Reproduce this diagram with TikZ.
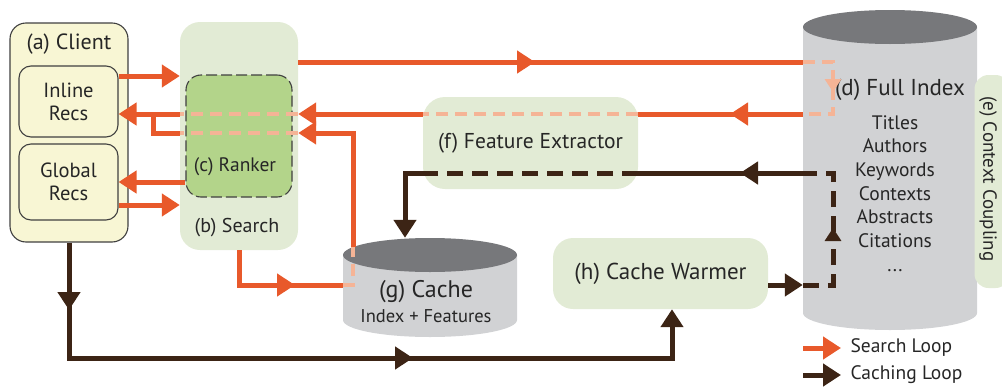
\documentclass[tikz,border=0pt]{standalone}
\usepackage{fontspec}
\setmainfont{PT Sans}
\usetikzlibrary{arrows.meta}
\definecolor{orangeC}{HTML}{E8592B}
\definecolor{peachC}{HTML}{F5B496}
\definecolor{darkC}{HTML}{3C2415}
\definecolor{clientC}{HTML}{F8F6D4}
\definecolor{greenC}{HTML}{E2EBD5}
\definecolor{rankC}{HTML}{B3D48A}
\definecolor{bodyC}{HTML}{D1D2D4}
\definecolor{topC}{HTML}{77787B}
\definecolor{edgeC}{HTML}{404040}
\begin{document}
\begin{tikzpicture}[x=1pt,y=-1pt,
  oline/.style={draw=orangeC, line width=5pt},
  dline/.style={draw=darkC, line width=5pt},
  pdash/.style={draw=peachC, line width=4pt, dash pattern=on 12pt off 7pt},
  ddash/.style={draw=darkC, line width=5pt, dash pattern=on 16pt off 9pt},
  tip/.style={-{Triangle[length=18pt,width=22pt]}},
  smalltip/.style={-{Triangle[length=13pt,width=16pt]}},
  clientbox/.style={draw=edgeC, line width=1.1pt, fill=clientC, rounded corners=16pt, inner sep=0},
  recbox/.style={draw=edgeC, line width=1.1pt, fill=clientC, rounded corners=12pt, inner sep=0, align=center, font=\fontsize{20.5}{23}\selectfont, text=black!85},
  greenbox/.style={fill=greenC, rounded corners=20pt, inner sep=0},
  rankbox/.style={draw=edgeC, line width=1.1pt, dash pattern=on 11pt off 4pt, fill=rankC, rounded corners=15pt, inner sep=0},
  lbl/.style={inner sep=0, align=center, text=black!85},
  area/.style={inner sep=0, minimum width=174pt},
]
\useasboundingbox (0,0) rectangle (1002,386);

% ---- boxes
\node[clientbox, minimum width=118pt, minimum height=219pt] (client) at (69,132.5) {};
\node[lbl, font=\fontsize{22}{26}\selectfont] (clientlbl) at (69,44) {(a) Client};
\node[recbox, minimum width=99pt, minimum height=71pt] (inline) at (68.5,101.5) {Inline\\Recs};
\node[recbox, minimum width=99pt, minimum height=76pt] (global) at (68.5,182) {Global\\Recs};

\node[greenbox, minimum width=118pt, minimum height=228pt] (search) at (239,136) {};
\node[lbl, font=\fontsize{20}{24}\selectfont] (searchlbl) at (237,228) {(b) Search};
\node[rankbox, minimum width=106pt, minimum height=122pt] (ranker) at (239,136) {};
\node[lbl, font=\fontsize{19.5}{23}\selectfont] (rankerlbl) at (235,167) {(c) Ranker};

\node[greenbox, rounded corners=22pt, minimum width=215pt, minimum height=92pt, font=\fontsize{21.5}{25}\selectfont, text=black!85] (feat) at (530.5,143) {(f) Feature Extractor};
\node[greenbox, minimum width=215pt, minimum height=71pt, font=\fontsize{23}{27}\selectfont, text=black!85] (warmer) at (660.5,273.5) {(h) Cache Warmer};

% ---- full index cylinder
\fill[bodyC] (803,27) -- (803,313) arc[start angle=180, end angle=360, x radius=87pt, y radius=17pt] -- (977,27) -- cycle;
\fill[topC] (890,27) ellipse[x radius=87pt, y radius=17pt];
\node[area, minimum height=320pt] (full) at (890,170) {};
\node[lbl, font=\fontsize{23}{27}\selectfont] (fulllbl) at (900,90) {(d) Full Index};
\node[lbl, font=\fontsize{19.5}{23.7}\selectfont, anchor=north] (fulllist) at (895,115) {Titles\\Authors\\Keywords\\Contexts\\Abstracts\\Citations\\...};

\node[greenbox, rounded corners=14pt, minimum width=35pt, minimum height=213pt] (ctx) at (992,181.5) {};
\node[lbl, rotate=-90, font=\fontsize{19}{22}\selectfont] (ctxlbl) at (988,179) {(e) Context Coupling};

% ---- cache cylinder
\fill[bodyC] (343,255) -- (343,320) arc[start angle=180, end angle=360, x radius=87pt, y radius=17pt] -- (517,255) -- cycle;
\fill[topC] (430,255) ellipse[x radius=87pt, y radius=17pt];
\node[area, minimum height=99pt] (cache) at (430,287.5) {};
\node[lbl, font=\fontsize{24}{28}\selectfont] (cachelbl) at (426,292) {(g) Cache};
\node[lbl, font=\fontsize{18.5}{22}\selectfont] (cachesub) at (426,316) {Index + Features};

% ---- search loop
\draw[oline,tip] (inline.east |- 0,76) -- (search.west |- 0,76);
\draw[oline,tip] (global.east |- 0,205) -- (search.west |- 0,205);
\draw[oline,tip] (ranker.west |- 0,182) -- (global.east |- 0,182);

\draw[oline,tip] (search.east |- 0,62) -- (535,62);
\draw[oline] (530,62) -- (full.west |- 0,62);
\draw[pdash,smalltip] (full.west |- 0,62) -- (833,62) -- (833,92);
\draw[pdash] (833,88) -- (833,114) -- (full.west |- 0,114);
\draw[oline,tip] (full.west |- 0,114) -- (730,114);
\draw[oline] (735,114) -- (feat.east |- 0,114);
\draw[pdash] (feat.east |- 0,114) -- (feat.west |- 0,114);
\draw[oline,tip] (feat.west |- 0,114) -- (search.east |- 0,114);
\draw[pdash] (search.east |- 0,114) -- (search.west |- 0,114);
\draw[oline,tip] (search.west |- 0,114) -- (inline.east |- 0,114);

\draw[oline,tip] (search.south) -- (239,285) -- (295,285);
\draw[oline] (290,285) -- (cache.west |- 0,285);
\draw[pdash] (cache.west |- 0,285) -- (353,285) -- (353,247);
\draw[oline,tip] (353,247) -- (353,133) -- (search.east |- 0,133);
\draw[pdash] (search.east |- 0,133) -- (search.west |- 0,133);
\draw[oline] (search.west |- 0,133) -- (153,133) -- (153,111.5);

% ---- caching loop
\draw[dline,tip] (client.south) -- (69,310);
\draw[dline,tip] (69,305) -- (69,358) -- (413,358);
\draw[dline,tip] (408,358) -- (672,358) -- (warmer.south -| 672,0);
\draw[dline,tip] (warmer.east |- 0,285) -- (full.west |- 0,285);
\draw[ddash,smalltip] (full.west |- 0,285) -- (833,285) -- (833,228);
\draw[ddash] (833,232) -- (833,173) -- (full.west |- 0,173);
\draw[dline,tip] (full.west |- 0,173) -- (740,173);
\draw[dline] (745,173) -- (feat.east |- 0,173);
\draw[ddash] (feat.east |- 0,173) -- (feat.west |- 0,173);
\draw[dline,tip] (feat.west |- 0,173) -- (405,173) -- (cache.north -| 405,0);

% ---- legend
\draw[oline,tip] (803,348) -- (841,348) node[lbl, anchor=west, xshift=7pt, font=\fontsize{19.5}{22}\selectfont] (leg1) {Search Loop};
\draw[dline,tip] (803,375) -- (841,375) node[lbl, anchor=west, xshift=7pt, font=\fontsize{19.5}{22}\selectfont] (leg2) {Caching Loop};
\end{tikzpicture}
\end{document}
